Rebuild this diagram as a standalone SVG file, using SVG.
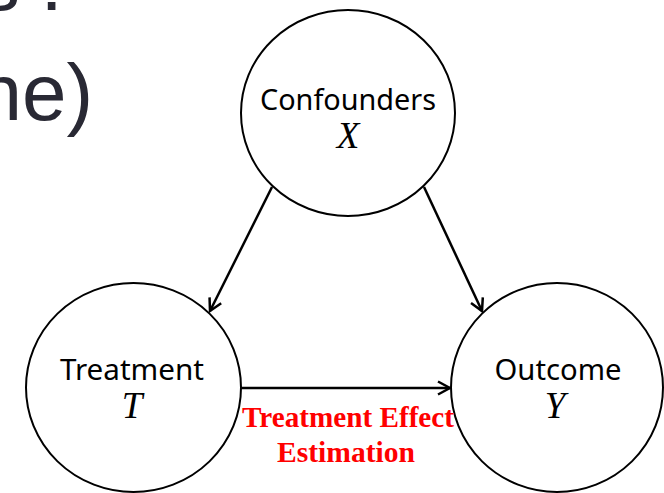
<svg xmlns="http://www.w3.org/2000/svg" width="664" height="493" viewBox="0 0 664 493">
  <style>
    .bg { font-family: "Liberation Sans", Arial, sans-serif; font-size: 80px; fill: #292934; }
    .node { fill: #ffffff; stroke: #000000; stroke-width: 2; }
    .lbl { font-family: "Noto Sans", "Open Sans", sans-serif; font-size: 29px; fill: #000000; text-anchor: middle; }
    .var { font-family: "Liberation Serif", "Times New Roman", serif; font-style: italic; font-size: 37px; fill: #000000; text-anchor: middle; }
    .edge { stroke: #000000; stroke-width: 2.5; fill: none; marker-end: url(#arrow); }
    .red { font-family: "Liberation Serif", "Times New Roman", serif; font-weight: bold; font-size: 29px; fill: #ff0000; text-anchor: middle; }
  </style>
  <defs>
    <marker id="arrow" markerUnits="userSpaceOnUse" viewBox="0 0 16 16" refX="14" refY="8" markerWidth="16" markerHeight="16" orient="auto">
      <path d="M2,1.5 L14,8 L2,14.5" fill="none" stroke="#000000" stroke-width="2.5" stroke-linejoin="miter"/>
    </marker>
  </defs>
  <rect width="664" height="493" fill="#ffffff"/>
  <g id="background-text">
    <text class="bg" y="10"><tspan x="-20">s</tspan><tspan x="40.6">:</tspan></text>
    <text class="bg" x="-22.5" y="120">ne)</text>
  </g>
  <g id="connectors">
    <line class="edge" x1="272" y1="187" x2="210" y2="311"/>
    <line class="edge" x1="424" y1="187" x2="482" y2="311"/>
    <line class="edge" x1="241" y1="388" x2="450" y2="388"/>
  </g>
  <g id="confounders">
    <ellipse class="node" cx="348" cy="113" rx="107" ry="103"/>
    <text class="lbl" x="348" y="110" textLength="176" lengthAdjust="spacingAndGlyphs">Confounders</text>
    <text class="var" x="348" y="148">X</text>
  </g>
  <g id="treatment">
    <ellipse class="node" cx="133.5" cy="387.5" rx="107.5" ry="104.5"/>
    <text class="lbl" x="132" y="380" textLength="144" lengthAdjust="spacingAndGlyphs">Treatment</text>
    <text class="var" x="132" y="418">T</text>
  </g>
  <g id="outcome">
    <ellipse class="node" cx="557" cy="387.5" rx="106" ry="104.5"/>
    <text class="lbl" x="558" y="380" textLength="127" lengthAdjust="spacingAndGlyphs">Outcome</text>
    <text class="var" x="555" y="418">Y</text>
  </g>
  <g id="edge-label">
    <text class="red" x="348" y="427" textLength="212" lengthAdjust="spacingAndGlyphs">Treatment Effect</text>
    <text class="red" x="346" y="462" textLength="138" lengthAdjust="spacingAndGlyphs">Estimation</text>
  </g>
</svg>
